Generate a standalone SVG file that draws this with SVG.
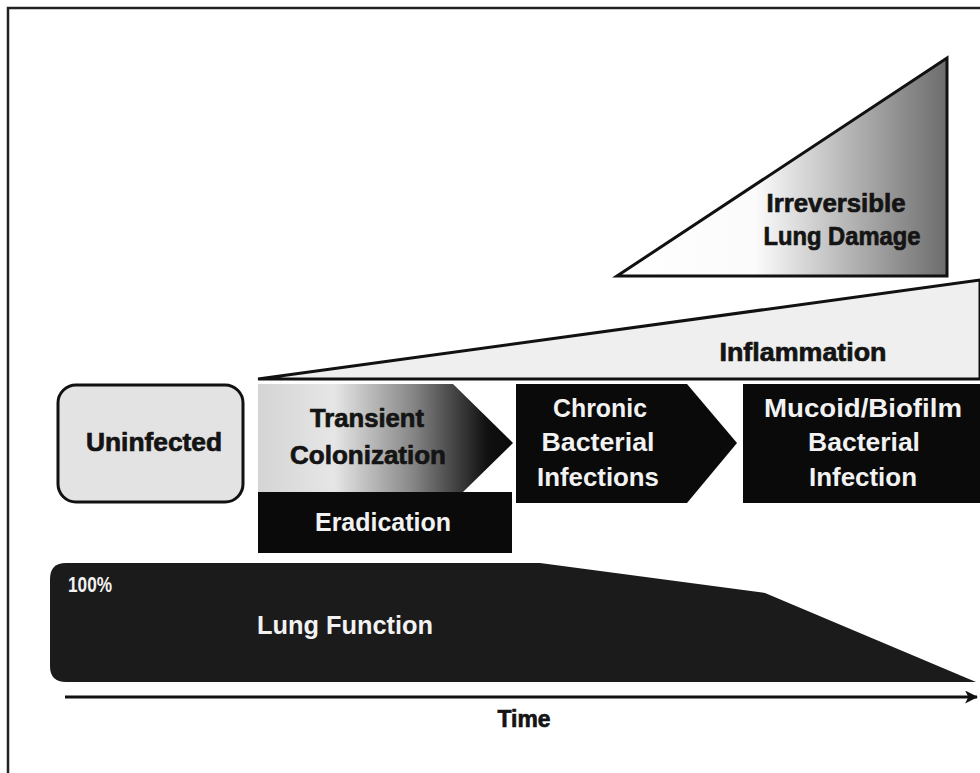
<svg xmlns="http://www.w3.org/2000/svg" width="980" height="773" viewBox="0 0 980 773">
<defs>
<linearGradient id="gDamage" gradientUnits="userSpaceOnUse" x1="617" y1="0" x2="947" y2="0">
<stop offset="0" stop-color="#ffffff"/>
<stop offset="0.42" stop-color="#fbfbfb"/>
<stop offset="1" stop-color="#6c6c6c"/>
</linearGradient>
<linearGradient id="gTrans" gradientUnits="userSpaceOnUse" x1="258" y1="0" x2="512" y2="0">
<stop offset="0" stop-color="#d4d4d4"/>
<stop offset="0.3" stop-color="#e6e6e6"/>
<stop offset="0.6" stop-color="#8a8a8a"/>
<stop offset="0.9" stop-color="#111111"/>
<stop offset="1" stop-color="#0a0a0a"/>
</linearGradient>
<marker id="arr" viewBox="0 0 12 12" refX="11" refY="6" markerWidth="13" markerHeight="13" markerUnits="userSpaceOnUse" orient="auto">
<path d="M0,0 L12,6 L0,12 L3,6 Z" fill="#111"/>
</marker>
<style>
.dk{font-family:"Liberation Sans",Arial,sans-serif;font-weight:bold;fill:#141414;stroke:#141414;stroke-width:0.7;text-anchor:middle}
.wt{font-family:"Liberation Sans",Arial,sans-serif;font-weight:bold;fill:#f2f2f2;text-anchor:middle}
</style>
</defs>
<rect width="980" height="773" fill="#ffffff"/>
<path d="M8,773 L8,8 L980,8" fill="none" stroke="#222" stroke-width="2.5"/>

<g id="irreversible-damage">
<polygon points="617,276 947,58 947,276" fill="url(#gDamage)" stroke="#111" stroke-width="3"/>
<text class="dk" x="836" y="212" font-size="26" textLength="139" lengthAdjust="spacingAndGlyphs">Irreversible</text>
<text class="dk" x="842" y="245" font-size="26" textLength="157" lengthAdjust="spacingAndGlyphs">Lung Damage</text>
</g>

<g id="inflammation">
<polygon points="258,379 980,280 980,379" fill="#efefef" stroke="#111" stroke-width="3"/>
<text class="dk" x="803" y="361" font-size="25" textLength="167" lengthAdjust="spacingAndGlyphs">Inflammation</text>
</g>

<g id="uninfected">
<rect x="58" y="385" width="185" height="117" rx="18" fill="#e3e3e3" stroke="#111" stroke-width="3"/>
<text class="dk" x="154" y="451" font-size="26" textLength="136" lengthAdjust="spacingAndGlyphs">Uninfected</text>
</g>

<g id="transient-colonization">
<polygon points="258,384 453,384 513,443 463,492 258,492" fill="url(#gTrans)"/>
<text class="dk" x="367" y="427" font-size="25" textLength="114" lengthAdjust="spacingAndGlyphs">Transient</text>
<text class="dk" x="368" y="464" font-size="25" textLength="156" lengthAdjust="spacingAndGlyphs">Colonization</text>
</g>

<g id="eradication">
<rect x="258" y="492" width="254" height="61" fill="#0a0a0a"/>
<text class="wt" x="383" y="531" font-size="25" textLength="136" lengthAdjust="spacingAndGlyphs">Eradication</text>
</g>

<g id="chronic-infections">
<polygon points="516,384 687,384 737,443 687,503 516,503" fill="#0a0a0a"/>
<text class="wt" x="600" y="417" font-size="25" textLength="94" lengthAdjust="spacingAndGlyphs">Chronic</text>
<text class="wt" x="598" y="451" font-size="25" textLength="113" lengthAdjust="spacingAndGlyphs">Bacterial</text>
<text class="wt" x="598" y="486" font-size="25" textLength="122" lengthAdjust="spacingAndGlyphs">Infections</text>
</g>

<g id="mucoid-biofilm">
<rect x="743" y="384" width="237" height="119" fill="#0a0a0a"/>
<text class="wt" x="863" y="417" font-size="25" textLength="198" lengthAdjust="spacingAndGlyphs">Mucoid/Biofilm</text>
<text class="wt" x="864" y="451" font-size="25" textLength="112" lengthAdjust="spacingAndGlyphs">Bacterial</text>
<text class="wt" x="863" y="486" font-size="25" textLength="108" lengthAdjust="spacingAndGlyphs">Infection</text>
</g>

<g id="lung-function">
<path d="M66,563 L540,563 L765,593 L976,682 L66,682 Q50,682 50,666 L50,579 Q50,563 66,563 Z" fill="#1b1b1b"/>
<text class="wt" x="90" y="592" font-size="22" textLength="44" lengthAdjust="spacingAndGlyphs">100%</text>
<text class="wt" x="345" y="634" font-size="25" textLength="176" lengthAdjust="spacingAndGlyphs">Lung Function</text>
</g>

<g id="connectors">
<line x1="65" y1="697" x2="977" y2="697" stroke="#111" stroke-width="3" marker-end="url(#arr)"/>
</g>

<g id="time-axis-label">
<text class="dk" x="524" y="727" font-size="24" textLength="53" lengthAdjust="spacingAndGlyphs">Time</text>
</g>
</svg>
